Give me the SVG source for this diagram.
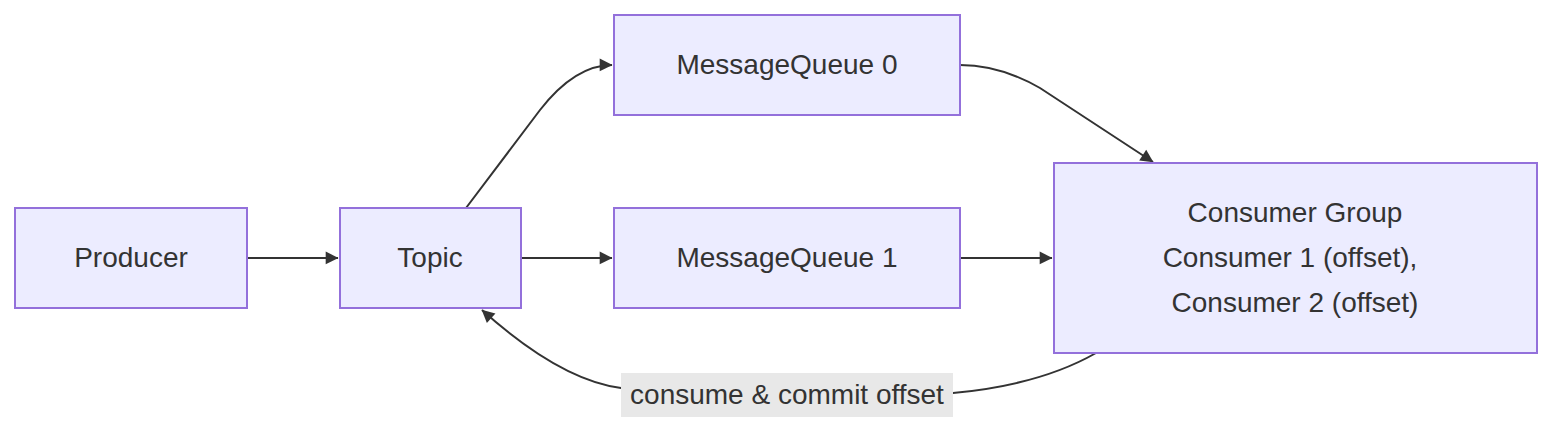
<svg xmlns="http://www.w3.org/2000/svg" width="1568" height="438" viewBox="0 0 1568 438">
<style>
.n rect{fill:#ECECFF;stroke:#9370DB;stroke-width:2}
text{font-family:"Liberation Sans",Arial,sans-serif;font-size:28px;fill:#333;text-anchor:middle;dominant-baseline:central}
.e path{fill:none;stroke:#333;stroke-width:2;marker-end:url(#a)}
</style>
<defs><marker id="a" viewBox="0 0 10 10" refX="9" refY="5" markerWidth="8" markerHeight="8" orient="auto" markerUnits="userSpaceOnUse" style="overflow:visible"><path d="M0,0L10,5L0,10z" fill="#333" transform="scale(1.6) translate(-4,-1.9)"/></marker></defs>
<rect width="1568" height="438" fill="#fff"/>
<g class="e">
<path d="M247,258L338,258"/>
<path d="M466,208L540,110Q575,65 612,65"/>
<path d="M521,258L612,258"/>
<path d="M960,65Q1000,65 1040,88L1153,162"/>
<path d="M960,258L1052,258"/>
<path d="M1096,353Q1040,385 953,393L621,388Q560,380 482,310"/>
</g>
<rect x="621" y="373" width="332" height="44" fill="#e8e8e8"/>
<text x="787" y="394">consume &amp; commit offset</text>
<g id="producer" class="n"><rect x="15" y="208" width="232" height="100"/><text x="131" y="257">Producer</text></g>
<g id="topic" class="n"><rect x="340" y="208" width="181" height="100"/><text x="430" y="257">Topic</text></g>
<g id="mq0" class="n"><rect x="614" y="15" width="346" height="100"/><text x="787" y="64">MessageQueue 0</text></g>
<g id="mq1" class="n"><rect x="614" y="208" width="346" height="100"/><text x="787" y="257">MessageQueue 1</text></g>
<g id="cg" class="n"><rect x="1054" y="163" width="483" height="190"/><text x="1295" y="212">Consumer Group</text><text x="1290" y="257">Consumer 1 (offset),</text><text x="1295" y="302">Consumer 2 (offset)</text></g>
</svg>
